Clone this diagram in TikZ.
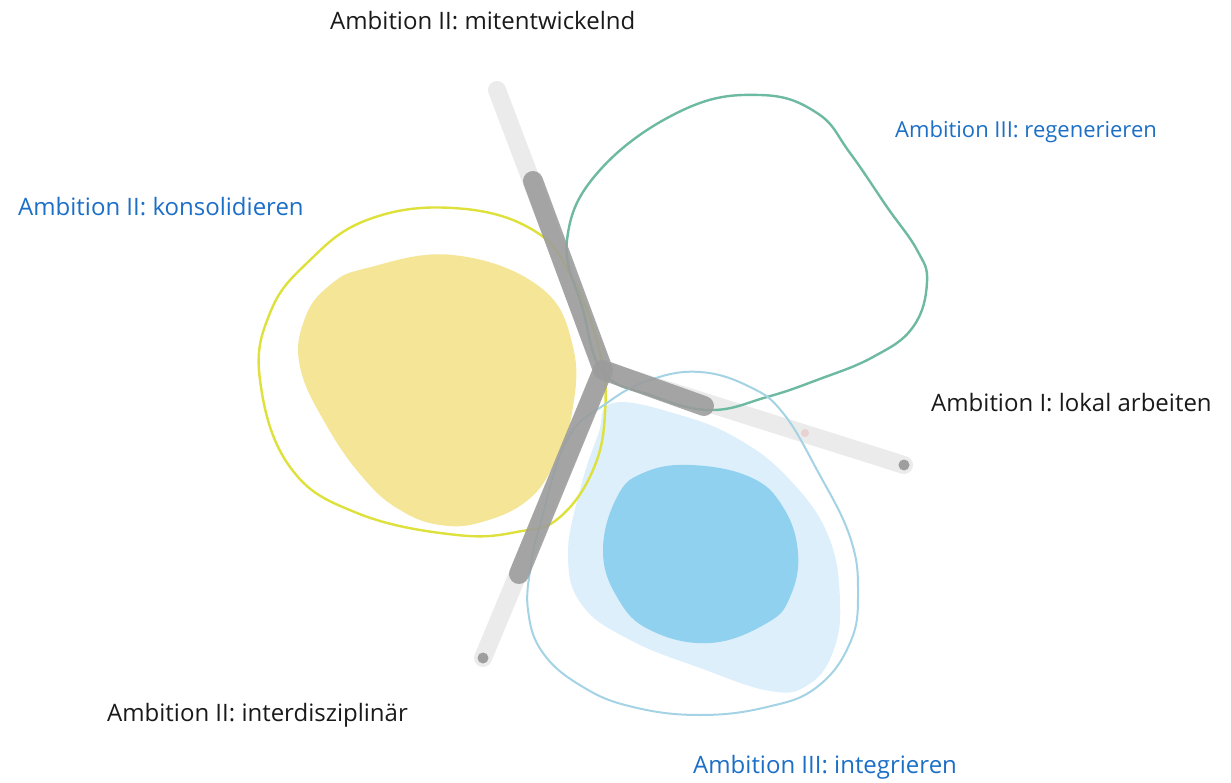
\documentclass[tikz,border=0pt]{standalone}
\usepackage{fontspec}
\setmainfont{Open Sans}
\usepackage{xcolor}
\definecolor{colorLabel}{HTML}{1A1A1A}
\definecolor{colorLabelBlue}{HTML}{1C6FC6}
\definecolor{colorArm}{HTML}{9B9B9B}
\definecolor{colorArmLight}{HTML}{EBEBEB}
\definecolor{colorDot}{HTML}{9E9E9E}
\definecolor{colorYellowFill}{HTML}{F5E596}
\definecolor{colorYellowLine}{HTML}{DEE13C}
\definecolor{colorGreenLine}{HTML}{6DB9A2}
\definecolor{colorBlueLine}{HTML}{A3D3E4}
\definecolor{colorBlueLight}{HTML}{DDEFFB}
\definecolor{colorBlueFill}{HTML}{90D1EF}
\usetikzlibrary{positioning}
\tikzset{
  ambition/.style={inner sep=0pt, anchor=base west, font=\fontsize{24}{28}\selectfont, text=colorLabel},
  ambitionBlue/.style={ambition, text=colorLabelBlue},
  armLight/.style={line width=18pt, colorArmLight, line cap=round},
  armDark/.style={line width=20pt, colorArm, opacity=.88, line cap=round, line join=round},
  blobLine/.style={line width=2.4pt}
}

\begin{document}
\begin{tikzpicture}[x=1pt, y=-1pt]
\useasboundingbox (0,0) rectangle (1231,783);
% hub and arm ends
\coordinate (hub) at (603,370);
\coordinate (topDark) at (533,181);
\coordinate (rightDark) at (704,406);
\coordinate (downDark) at (519,574);
\coordinate (topLight) at (497,90);
\coordinate (rightLight) at (904,465);
\coordinate (downLight) at (483,658);
\coordinate (rightMark) at (805,433);
% light arms
\draw[armLight] (hub) -- (topLight);
\draw[armLight] (hub) -- (rightLight);
\draw[armLight] (hub) -- (downLight);
% fills
\fill[colorYellowFill] plot[smooth cycle, tension=.7] coordinates {(453,255) (540,287) (573,347) (572,413) (555,462) (528,500) (482,522) (440,525) (400,510) (365,480) (328,428) (300,367) (305,318) (330,285) (367,268)};
\fill[colorBlueLight] plot[smooth cycle, tension=.7] coordinates {(613,403) (680,415) (740,440) (790,480) (828,535) (840,600) (833,652) (808,685) (770,691) (700,668) (630,640) (582,605) (568,555) (580,490) (598,435)};
\fill[colorBlueFill] plot[smooth cycle, tension=.7] coordinates {(690,465) (750,477) (783,507) (798,553) (790,597) (767,623) (710,643) (650,630) (617,597) (603,550) (617,497) (643,473)};
% outlines
\draw[blobLine, colorYellowLine] plot[smooth cycle, tension=.7] coordinates {(453,208) (533,230) (573,280) (600,353) (605,413) (593,470) (560,517) (522,531) (457,535) (357,513) (290,467) (260,380) (270,313) (307,263) (367,220)};
\draw[blobLine, colorGreenLine] plot[smooth cycle, tension=.7] coordinates {(603,372) (583,310) (567,240) (600,170) (683,110) (760,95) (817,113) (850,153) (887,207) (917,250) (927,282) (913,327) (873,357) (817,380) (767,397) (710,410) (650,395)};
\draw[blobLine, line width=2pt, colorBlueLine] plot[smooth cycle, tension=.7] coordinates {(700,372) (750,387) (783,413) (817,470) (850,537) (858,593) (850,643) (817,687) (767,707) (700,715) (633,707) (583,687) (543,653) (528,610) (531,565) (540,525) (567,440) (607,403) (650,380)};
% dark arms
\draw[armDark] (topDark) -- (hub) -- (rightDark);
\draw[armDark] (hub) -- (downDark);
% end dots
\fill[colorDot] (rightLight) circle (5.5pt);
\fill[colorDot] (downLight) circle (5.5pt);
\fill[colorDot!40!pink!60!white] (rightMark) circle (4pt);
% labels
\node[ambition] (ambMit) at (330,30) {Ambition II: mitentwickelnd};
\node[ambitionBlue, font=\fontsize{22}{26}\selectfont] (ambReg) at (895,138) {Ambition III: regenerieren};
\node[ambitionBlue] (ambKon) at (18,216) {Ambition II: konsolidieren};
\node[ambition] (ambLok) at (931,411) {Ambition I: lokal arbeiten};
\node[ambition] (ambInt) at (107,721) {Ambition II: interdisziplinär};
\node[ambitionBlue] (ambIntg) at (693,773) {Ambition III: integrieren};
\end{tikzpicture}
\end{document}
